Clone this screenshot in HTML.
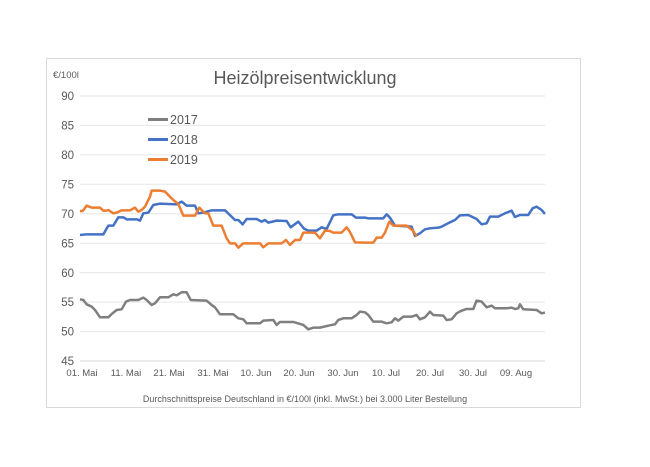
<!DOCTYPE html>
<html><head><meta charset="utf-8"><style>
body{margin:0;background:#fff;width:650px;height:467px;overflow:hidden}
svg{position:absolute;left:0;top:0}
text{font-family:"Liberation Sans",sans-serif;fill:#595959}
</style></head><body>
<svg width="650" height="467" viewBox="0 0 650 467">
<rect x="46.5" y="58.5" width="534" height="349" fill="#fff" stroke="#d9d9d9"/>
<g stroke="#e6e6e6" stroke-width="1">
<line x1="80" x2="545" y1="96" y2="96"/><line x1="80" x2="545" y1="125.4" y2="125.4"/>
<line x1="80" x2="545" y1="154.9" y2="154.9"/><line x1="80" x2="545" y1="184.3" y2="184.3"/>
<line x1="80" x2="545" y1="213.8" y2="213.8"/><line x1="80" x2="545" y1="243.2" y2="243.2"/>
<line x1="80" x2="545" y1="272.7" y2="272.7"/><line x1="80" x2="545" y1="302.1" y2="302.1"/>
<line x1="80" x2="545" y1="331.6" y2="331.6"/>
</g>
<line x1="80" x2="545" y1="361" y2="361" stroke="#d9d9d9"/>
<g font-size="11.5" text-anchor="end">
<text x="74" y="100">90</text><text x="74" y="129.5">85</text><text x="74" y="159">80</text>
<text x="74" y="188.5">75</text><text x="74" y="218">70</text><text x="74" y="247.5">65</text>
<text x="74" y="277">60</text><text x="74" y="306">55</text><text x="74" y="335.5">50</text>
<text x="74" y="365">45</text>
</g>
<g font-size="9.5" text-anchor="middle">
<text x="82" y="376">01. Mai</text><text x="126" y="376">11. Mai</text><text x="169" y="376">21. Mai</text>
<text x="213" y="376">31. Mai</text><text x="256" y="376">10. Jun</text><text x="299" y="376">20. Jun</text>
<text x="343" y="376">30. Jun</text><text x="386" y="376">10. Jul</text><text x="430" y="376">20. Jul</text>
<text x="473" y="376">30. Jul</text><text x="516" y="376">09. Aug</text>
</g>
<text x="305" y="84" font-size="18" text-anchor="middle" fill="#404040">Heizölpreisentwicklung</text>
<text x="53" y="78" font-size="9.5">€/100l</text>
<text x="305" y="402" font-size="9" text-anchor="middle">Durchschnittspreise Deutschland in €/100l (inkl. MwSt.) bei 3.000 Liter Bestellung</text>
<g stroke-width="3"><line x1="148" x2="168" y1="119.5" y2="119.5" stroke="#7f7f7f"/>
<line x1="148" x2="168" y1="139.5" y2="139.5" stroke="#4472c4"/>
<line x1="148" x2="168" y1="159.5" y2="159.5" stroke="#ed7d31"/></g>
<g font-size="12.5"><text x="170" y="124" fill="#404040">2017</text><text x="170" y="144" fill="#404040">2018</text><text x="170" y="164" fill="#404040">2019</text></g>
<g transform="translate(40,60) scale(0.3333)" fill="none" stroke-width="7.5" stroke-linejoin="round">
<polyline stroke="#7f7f7f" points="120,718 130,720 140,733 155,740 165,750 180,772 205,772 215,762 230,750 245,748 258,725 270,720 295,720 310,713 320,720 335,735 345,730 360,712 385,712 400,703 410,706 425,697 440,697 452,720 500,722 515,735 525,742 540,763 580,763 595,775 610,778 620,790 660,790 670,782 700,780 710,795 720,786 760,786 790,795 805,808 820,803 840,803 870,796 885,793 895,780 910,775 935,775 950,765 960,755 975,757 985,765 1000,785 1025,785 1040,790 1055,787 1065,775 1075,782 1090,770 1115,770 1130,765 1140,778 1155,772 1170,755 1180,765 1210,767 1220,780 1235,778 1250,760 1265,752 1280,747 1300,747 1310,722 1325,725 1340,742 1355,737 1365,745 1400,745 1415,743 1425,747 1435,745 1440,733 1450,748 1490,750 1505,760 1515,758"/>
<polyline stroke="#4472c4" points="120,525 140,523 190,523 205,497 220,497 235,472 250,472 260,478 290,478 300,482 310,460 325,458 340,435 360,431 410,433 425,425 440,437 465,437 475,460 490,458 500,455 515,451 555,451 585,480 595,480 608,493 620,477 650,477 665,485 675,480 685,488 710,482 740,483 752,502 775,485 792,506 805,512 830,512 845,502 860,507 880,466 895,463 935,463 948,473 975,473 985,475 1030,475 1040,463 1050,473 1065,497 1115,500 1125,528 1140,520 1155,508 1170,505 1195,503 1205,500 1230,487 1245,480 1260,466 1285,465 1310,477 1325,493 1340,490 1350,470 1375,470 1395,460 1415,452 1425,471 1440,465 1465,465 1478,445 1490,440 1505,450 1515,462"/>
<polyline stroke="#ed7d31" points="120,453 128,453 140,437 155,443 180,443 190,452 200,452 205,450 220,460 230,458 245,451 270,451 285,443 295,455 305,450 315,440 330,410 335,392 360,392 375,395 385,405 400,420 415,432 430,467 465,467 478,443 495,460 505,460 520,497 545,497 560,535 570,550 585,550 595,563 610,550 660,550 670,562 685,550 725,550 738,540 750,555 765,540 780,540 790,518 825,518 840,535 855,512 870,513 880,518 905,518 920,502 930,516 945,547 975,548 1000,548 1010,533 1025,533 1035,518 1048,485 1060,497 1100,497 1120,513 1130,530"/>
</g>
</svg>
</body></html>
